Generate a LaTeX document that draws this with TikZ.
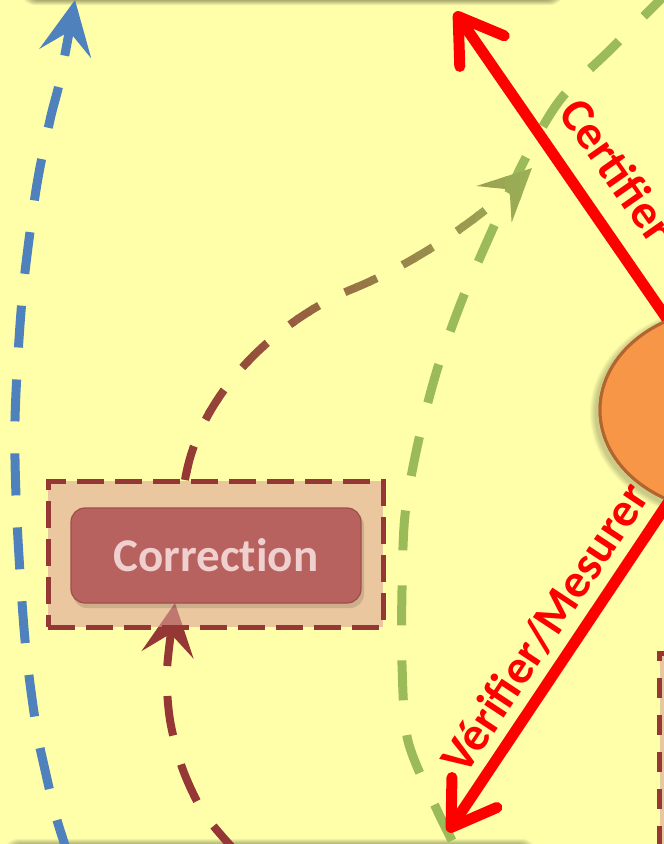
\documentclass[tikz,border=0pt]{standalone}
\usepackage{fontspec}
\setmainfont{Carlito}
\usetikzlibrary{arrows.meta,shapes.geometric}
\definecolor{bgy}{HTML}{FFFFAA}
\definecolor{blueL}{HTML}{4F81BD}
\definecolor{greenL}{HTML}{9BBB59}
\definecolor{brownL}{HTML}{953735}
\definecolor{orangeF}{HTML}{F79646}
\definecolor{orangeD}{HTML}{B2652F}
\definecolor{beigeB}{HTML}{DCA396}
\definecolor{beigeS}{HTML}{EAC89E}
\definecolor{corrF}{HTML}{B7625F}
\definecolor{corrD}{HTML}{9E4F4C}
\definecolor{corrT}{HTML}{F0CFCF}
\begin{document}
\begin{tikzpicture}[x=1pt,y=-1pt,
  bluedash/.style={draw=blueL, line width=9pt, dash pattern=on 42pt off 32pt,
     -{Stealth[length=54pt,width=52pt,inset=22pt]}},
  greendash/.style={draw=greenL, line width=9pt, dash pattern=on 40pt off 35pt},
  browndash/.style={draw=brownL, line width=8pt, dash pattern=on 40pt off 30pt,
     -{Stealth[length=52pt,width=52pt,inset=21pt]}},
  graddash/.style={line width=8pt, dash pattern=on 35pt off 29pt,
     -{Stealth[length=52pt,width=50pt,inset=21pt]}},
  redarrow/.style={draw=red, line width=11pt, line cap=round,
     -{Straight Barb[length=42pt,width=54pt,line cap=round,line join=round]}},
  outerbox/.style={draw=brownL, fill=beigeB, fill opacity=0.6, draw opacity=1,
     line width=5pt, dash pattern=on 27pt off 11pt, minimum width=335pt, minimum height=146pt},
  innerbox/.style={draw=corrD, fill=corrF, line width=1.2pt, rounded corners=14pt,
     minimum width=290pt, minimum height=95pt, text=corrT,
     font=\fontsize{47}{56}\selectfont\bfseries\addfontfeatures{Ligatures=NoCommon}},
  lbl/.style={text=red, font=\fontsize{48}{56}\selectfont\bfseries, inner sep=0pt},
  procnode/.style={ellipse, draw=orangeD, fill=orangeF, line width=3pt,
     minimum width=260pt, minimum height=204pt}
]
\useasboundingbox (0,0) rectangle (664,844);
\clip (0,0) rectangle (664,844);
\fill[bgy] (-5,-5) rectangle (670,850);

% shadows of boxes above and below
\foreach \k in {1,...,8}{
  \fill[black, opacity=0.07, rounded corners=14pt] (29-\k,-80) rectangle (556+\k,-3+\k);
  \fill[black, opacity=0.06, rounded corners=14pt] (12-\k,847-\k) rectangle (528+\k,920);
}

% right bottom box
\node[draw=brownL, fill=beigeS, line width=5pt, dash pattern=on 20pt off 17pt,
      minimum width=80pt, minimum height=260pt, anchor=north west] (rbox) at (657,651) {};

% coordinates
\coordinate (bS) at (70,860);
\coordinate (bE) at (75,0);
\coordinate (gS) at (672,-12);
\coordinate (gE) at (460,856);
\coordinate (brS) at (240,856);
\coordinate (brE) at (175,603);
\coordinate (gr0) at (185,480);
\coordinate (grE) at (532,168);
\coordinate (cT) at (455,12);
\coordinate (vT) at (448,832);

% blue dashed arrow
\draw[bluedash] plot[smooth] coordinates {(bS) (57,820) (45,770) (36,726) (25,640) (17,520) (15,420) (22,300) (36,190) (50,120) (60,80) (bE)};

% green dashed line
\draw[greendash] plot[smooth] coordinates {(gS) (612,48) (560,100) (523,163) (490,235) (462,300) (437,370) (418,443) (405,515) (402,590) (402,665) (408,741) (437,810) (gE)};

% brown dashed arrow into Correction
\draw[browndash] plot[smooth] coordinates {(brS) (205,815) (183,770) (170,720) (167,670) (brE)};

% Correction boxes
\node[outerbox] (corrbox) at (215.5,554) {};
\fill[black, opacity=0.12, rounded corners=14pt] (73,512) rectangle (364,608);
\node[innerbox] (corr) at (216,555.5) {Correction};

% gradient dashed arrow from Correction to green line
\foreach \i in {0,...,24}{
  \pgfmathtruncatemacro\pct{100-4*\i}
  \begin{scope}
    \clip (175+15*\i,140) rectangle (192+15*\i,495);
    \draw[graddash, draw=brownL!\pct!greenL]
      (gr0) .. controls (200,390) and (280,320) .. (350,290)
      .. controls (420,262) and (485,213) .. (grE);
  \end{scope}
}

% ellipse shadow
\foreach \k in {1,...,6}{
  \fill[black, opacity=0.035] (727,413) ellipse [x radius=131+\k, y radius=103+\k];
}

% red arrows
\node[procnode] (proc) at (730,410) {};
\draw[redarrow] (proc.center) -- (cT);
\draw[redarrow] (proc.center) -- (vT);
\node[procnode] (proc2) at (730,410) {};

% labels
\node[lbl, rotate=-55] (tcert) at (618,170) {Certifier};
\node[lbl, rotate=56.5] (tver) at (545,628) {Vérifier/Mesurer};
\end{tikzpicture}
\end{document}
